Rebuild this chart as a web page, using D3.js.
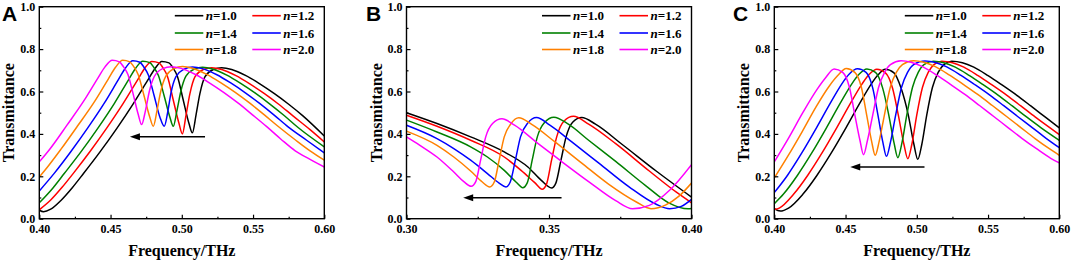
<!DOCTYPE html>
<html>
<head>
<meta charset="utf-8">
<script src="https://cdn.jsdelivr.net/npm/d3@7"></script>
<style>
  body { margin: 0; background: #fff; }
  svg { display: block; }
  .serif { font-family: "Liberation Serif", "Times New Roman", Times, "DejaVu Serif", serif; font-weight: bold; }
</style>
</head>
<body>
<div id="chart"></div>
<script>
// legend entries and line colours
const seriesNames = ["1.0", "1.2", "1.4", "1.6", "1.8", "2.0"];
const seriesColors = ["#000000", "#ff0000", "#008000", "#0000ff", "#ff8000", "#ff00ff"];
const panelLetters = ["A", "B", "C"];

// tick labels
const xTicksA = [0.40, 0.45, 0.50, 0.55, 0.60];
const xMinorA = [0.425, 0.475, 0.525, 0.575];
const xTicksB = [0.30, 0.35, 0.40];
const xMinorB = [0.325, 0.375];
const yTicks = [0.0, 0.2, 0.4, 0.6, 0.8, 1.0];
const yMinor = [0.1, 0.3, 0.5, 0.7, 0.9];

// panel A: [frequency THz, transmittance], one list per n
const curvesA = [
  // n=1.0
  [[0.400,0.040],[0.403,0.033],[0.408,0.045],[0.415,0.085],[0.423,0.145],[0.431,0.213],[0.4426,0.315],[0.4543,0.425],[0.466,0.543],[0.476,0.652],[0.481,0.706],[0.486,0.742],[0.491,0.735],[0.4935,0.715],[0.497,0.67],[0.501,0.56],[0.505,0.45],[0.5074,0.405],[0.510,0.49],[0.5127,0.59],[0.5163,0.67],[0.522,0.703],[0.528,0.712],[0.535,0.704],[0.545,0.675],[0.555,0.635],[0.565,0.59],[0.575,0.54],[0.585,0.485],[0.600,0.39]],
  // n=1.2
  [[0.400,0.042],[0.408,0.088],[0.416,0.148],[0.424,0.215],[0.4356,0.317],[0.4473,0.427],[0.459,0.545],[0.469,0.655],[0.474,0.71],[0.479,0.742],[0.484,0.735],[0.4865,0.715],[0.490,0.67],[0.494,0.56],[0.498,0.45],[0.5004,0.40],[0.503,0.49],[0.5057,0.59],[0.5093,0.67],[0.515,0.703],[0.521,0.712],[0.528,0.704],[0.538,0.675],[0.548,0.635],[0.558,0.59],[0.568,0.54],[0.578,0.485],[0.590,0.42],[0.600,0.362]],
  // n=1.4
  [[0.400,0.075],[0.4096,0.145],[0.4175,0.213],[0.4292,0.315],[0.4409,0.425],[0.4526,0.543],[0.4626,0.655],[0.4676,0.71],[0.4726,0.743],[0.4776,0.736],[0.4801,0.716],[0.4836,0.675],[0.4876,0.58],[0.4916,0.48],[0.494,0.436],[0.4966,0.51],[0.4993,0.60],[0.5029,0.672],[0.5086,0.705],[0.5146,0.714],[0.5216,0.706],[0.5316,0.677],[0.5416,0.637],[0.5516,0.592],[0.5616,0.542],[0.5716,0.488],[0.5816,0.43],[0.600,0.339]],
  // n=1.6
  [[0.400,0.131],[0.4106,0.215],[0.4222,0.317],[0.4339,0.427],[0.4456,0.545],[0.4556,0.657],[0.4606,0.712],[0.4656,0.745],[0.4706,0.738],[0.4731,0.718],[0.4766,0.677],[0.4806,0.58],[0.4846,0.48],[0.4877,0.436],[0.4903,0.51],[0.4923,0.59],[0.4959,0.67],[0.5016,0.705],[0.5076,0.716],[0.5146,0.708],[0.5246,0.679],[0.5346,0.639],[0.5446,0.594],[0.5546,0.544],[0.5646,0.49],[0.5746,0.433],[0.5876,0.37],[0.600,0.31]],
  // n=1.8
  [[0.400,0.197],[0.4035,0.225],[0.4151,0.327],[0.4268,0.437],[0.4385,0.55],[0.4485,0.66],[0.4535,0.714],[0.4585,0.747],[0.4635,0.74],[0.466,0.72],[0.4695,0.678],[0.4735,0.58],[0.4775,0.48],[0.480,0.436],[0.4826,0.51],[0.4852,0.60],[0.4888,0.673],[0.4945,0.708],[0.5005,0.718],[0.5075,0.71],[0.5175,0.681],[0.5275,0.641],[0.5375,0.596],[0.5475,0.546],[0.5575,0.492],[0.5675,0.436],[0.580,0.37],[0.590,0.32],[0.600,0.276]],
  // n=2.0
  [[0.400,0.268],[0.4076,0.33],[0.4193,0.44],[0.431,0.553],[0.441,0.662],[0.446,0.715],[0.4512,0.747],[0.4562,0.74],[0.4587,0.72],[0.4622,0.68],[0.4658,0.59],[0.4695,0.49],[0.4718,0.444],[0.4745,0.51],[0.4772,0.60],[0.4808,0.672],[0.4866,0.708],[0.4926,0.717],[0.4996,0.709],[0.5096,0.68],[0.5196,0.64],[0.5296,0.595],[0.5396,0.545],[0.5496,0.49],[0.5596,0.434],[0.5696,0.375],[0.5796,0.32],[0.590,0.28],[0.600,0.244]]
];

// panel B
const curvesB = [
  [[0.300,0.500],[0.3107,0.449],[0.3225,0.386],[0.3343,0.315],[0.3426,0.244],[0.3473,0.181],[0.3509,0.145],[0.3524,0.168],[0.3542,0.276],[0.356,0.386],[0.3583,0.455],[0.3615,0.477],[0.3663,0.446],[0.3757,0.350],[0.3876,0.225],[0.400,0.102]],
  [[0.300,0.488],[0.3107,0.436],[0.3225,0.370],[0.3343,0.291],[0.3402,0.228],[0.345,0.170],[0.3476,0.139],[0.3491,0.162],[0.3509,0.276],[0.3527,0.386],[0.3553,0.461],[0.3586,0.483],[0.3639,0.446],[0.3734,0.354],[0.3852,0.225],[0.3947,0.125],[0.400,0.075]],
  [[0.300,0.465],[0.3107,0.409],[0.3225,0.339],[0.3284,0.291],[0.3343,0.228],[0.3385,0.172],[0.3408,0.146],[0.3424,0.170],[0.3441,0.276],[0.3459,0.386],[0.3485,0.455],[0.3517,0.479],[0.3568,0.446],[0.3639,0.370],[0.3734,0.270],[0.384,0.155],[0.392,0.075],[0.3988,0.047],[0.400,0.048]],
  [[0.300,0.441],[0.3107,0.378],[0.3166,0.331],[0.3225,0.276],[0.3284,0.213],[0.3325,0.168],[0.3349,0.150],[0.3364,0.173],[0.3382,0.276],[0.340,0.386],[0.3426,0.452],[0.3456,0.477],[0.3503,0.441],[0.358,0.362],[0.3675,0.262],[0.3781,0.150],[0.3876,0.068],[0.3923,0.047],[0.3964,0.058],[0.400,0.091]],
  [[0.300,0.413],[0.3107,0.346],[0.3166,0.291],[0.3225,0.225],[0.3266,0.173],[0.3292,0.150],[0.3308,0.173],[0.3325,0.276],[0.3343,0.386],[0.3367,0.449],[0.3394,0.476],[0.3438,0.446],[0.3521,0.362],[0.3615,0.262],[0.371,0.162],[0.3805,0.080],[0.3858,0.047],[0.391,0.065],[0.3955,0.105],[0.400,0.168]],
  [[0.300,0.386],[0.3047,0.346],[0.3107,0.291],[0.3166,0.220],[0.3201,0.175],[0.3227,0.153],[0.3243,0.175],[0.326,0.276],[0.3278,0.386],[0.3302,0.449],[0.3335,0.471],[0.3379,0.441],[0.3462,0.354],[0.3544,0.270],[0.3639,0.175],[0.3734,0.085],[0.3793,0.047],[0.3852,0.063],[0.3923,0.134],[0.400,0.255]]
];

// panel C
const curvesC = [
  [[0.400,0.047],[0.4042,0.036],[0.410,0.05],[0.420,0.115],[0.430,0.205],[0.440,0.31],[0.450,0.425],[0.460,0.545],[0.468,0.635],[0.473,0.68],[0.4778,0.705],[0.484,0.688],[0.489,0.615],[0.494,0.49],[0.498,0.35],[0.5007,0.28],[0.5035,0.35],[0.507,0.49],[0.511,0.62],[0.515,0.69],[0.519,0.727],[0.5245,0.743],[0.532,0.736],[0.540,0.715],[0.550,0.675],[0.560,0.63],[0.570,0.583],[0.580,0.532],[0.590,0.48],[0.600,0.428]],
  [[0.400,0.043],[0.4035,0.05],[0.4135,0.115],[0.4235,0.205],[0.4335,0.31],[0.4435,0.425],[0.4535,0.545],[0.4615,0.635],[0.4665,0.68],[0.472,0.705],[0.478,0.688],[0.483,0.615],[0.487,0.49],[0.491,0.35],[0.4937,0.283],[0.4965,0.35],[0.500,0.49],[0.504,0.62],[0.508,0.69],[0.512,0.727],[0.5175,0.743],[0.525,0.736],[0.533,0.715],[0.543,0.675],[0.553,0.63],[0.563,0.583],[0.573,0.532],[0.583,0.48],[0.600,0.397]],
  [[0.400,0.071],[0.4063,0.115],[0.4163,0.205],[0.4263,0.31],[0.4363,0.425],[0.4463,0.545],[0.4543,0.635],[0.4593,0.68],[0.465,0.706],[0.471,0.69],[0.476,0.617],[0.4803,0.49],[0.4841,0.355],[0.4867,0.288],[0.4895,0.355],[0.493,0.49],[0.497,0.62],[0.501,0.69],[0.505,0.727],[0.5117,0.743],[0.519,0.736],[0.527,0.715],[0.537,0.675],[0.547,0.63],[0.557,0.583],[0.567,0.532],[0.577,0.48],[0.587,0.43],[0.600,0.37]],
  [[0.400,0.123],[0.4093,0.205],[0.4193,0.31],[0.4293,0.425],[0.4393,0.545],[0.4473,0.635],[0.4523,0.68],[0.4584,0.707],[0.4644,0.69],[0.469,0.618],[0.4727,0.49],[0.4762,0.36],[0.4787,0.294],[0.4815,0.36],[0.4852,0.49],[0.4893,0.62],[0.4935,0.69],[0.4978,0.727],[0.5058,0.744],[0.513,0.737],[0.521,0.716],[0.531,0.676],[0.541,0.631],[0.551,0.584],[0.561,0.533],[0.571,0.481],[0.581,0.43],[0.591,0.378],[0.600,0.335]],
  [[0.400,0.192],[0.4095,0.295],[0.4195,0.41],[0.4295,0.53],[0.4385,0.625],[0.4445,0.675],[0.4505,0.708],[0.4565,0.69],[0.4611,0.62],[0.4648,0.49],[0.4683,0.365],[0.4708,0.299],[0.4736,0.365],[0.4773,0.49],[0.4814,0.62],[0.4856,0.69],[0.4899,0.727],[0.4977,0.745],[0.505,0.738],[0.513,0.717],[0.523,0.677],[0.533,0.632],[0.543,0.585],[0.553,0.534],[0.563,0.482],[0.573,0.43],[0.583,0.378],[0.593,0.33],[0.600,0.299]],
  [[0.400,0.268],[0.410,0.38],[0.420,0.50],[0.430,0.61],[0.436,0.665],[0.442,0.706],[0.448,0.69],[0.4527,0.62],[0.4565,0.49],[0.4601,0.37],[0.4626,0.302],[0.4654,0.37],[0.4691,0.49],[0.4732,0.62],[0.4774,0.69],[0.4815,0.727],[0.489,0.745],[0.496,0.738],[0.504,0.717],[0.514,0.677],[0.524,0.632],[0.534,0.585],[0.544,0.534],[0.554,0.482],[0.564,0.43],[0.574,0.378],[0.584,0.33],[0.594,0.285],[0.600,0.263]]
];

// shift arrows: [from, to] in data units
const arrowA = [[0.5163, 0.386], [0.4636, 0.386]];
const arrowB = [[0.3544, 0.099], [0.3199, 0.099]];
const arrowC = [[0.5054, 0.244], [0.4533, 0.244]];

const width = 1072;
const height = 263;
const plotTop = 6.7, plotBottom = 218.7;

const panels = [
  { letter: panelLetters[0], left: 39.3, right: 324.3, letterX: 2, legendDx: 0,
    domain: [0.40, 0.60], ticks: xTicksA, minor: xMinorA, curves: curvesA, arrow: arrowA },
  { letter: panelLetters[1], left: 406.5, right: 691.5, letterX: 366, legendDx: 0,
    domain: [0.30, 0.40], ticks: xTicksB, minor: xMinorB, curves: curvesB, arrow: arrowB },
  { letter: panelLetters[2], left: 774.3, right: 1059.3, letterX: 733, legendDx: -5,
    domain: [0.40, 0.60], ticks: xTicksA, minor: xMinorA, curves: curvesC, arrow: arrowC }
];

const svg = d3.select("#chart")
  .append("svg")
  .attr("width", width)
  .attr("height", height)
  .attr("viewBox", [0, 0, width, height]);

panels.forEach((p, pi) => {
  const x = d3.scaleLinear().domain(p.domain).range([p.left, p.right]);
  const y = d3.scaleLinear().domain([0, 1]).range([plotBottom, plotTop]);
  const g = svg.append("g");

  const clipId = "clip" + pi;
  g.append("clipPath").attr("id", clipId)
    .append("rect")
    .attr("x", p.left).attr("y", plotTop)
    .attr("width", p.right - p.left).attr("height", plotBottom - plotTop);

  // curves
  const line = d3.line()
    .x(d => x(d[0]))
    .y(d => y(d[1]))
    .curve(d3.curveMonotoneX);

  g.append("g")
    .attr("clip-path", `url(#${clipId})`)
    .selectAll("path")
    .data(p.curves)
    .join("path")
    .attr("d", line)
    .attr("fill", "none")
    .attr("stroke", (d, i) => seriesColors[i])
    .attr("stroke-width", 1.5);

  // x axis, ticks pointing inward
  g.append("g")
    .attr("transform", `translate(0,${plotBottom})`)
    .call(d3.axisBottom(x).tickValues(p.ticks).tickFormat(d3.format(".2f"))
      .tickSize(-4).tickSizeOuter(0).tickPadding(6));
  g.append("g")
    .attr("transform", `translate(0,${plotBottom})`)
    .call(d3.axisBottom(x).tickValues(p.minor).tickFormat("").tickSize(-2).tickSizeOuter(0));

  g.append("g")
    .attr("transform", `translate(${p.left},0)`)
    .call(d3.axisLeft(y).tickValues(yTicks).tickFormat(d3.format(".1f"))
      .tickSize(-4).tickSizeOuter(0).tickPadding(4));
  g.append("g")
    .attr("transform", `translate(${p.left},0)`)
    .call(d3.axisLeft(y).tickValues(yMinor).tickFormat("").tickSize(-2).tickSizeOuter(0));

  g.selectAll(".domain").remove();
  g.selectAll(".tick line").attr("stroke", "#000").attr("stroke-width", 1.2);
  g.selectAll("g.tick text")
    .attr("fill", "#000")
    .attr("font-family", null)
    .attr("class", "serif")
    .style("font-size", "12px");
  g.selectAll("g").attr("font-family", null);

  // frame
  g.append("rect")
    .attr("x", p.left).attr("y", plotTop)
    .attr("width", p.right - p.left).attr("height", plotBottom - plotTop)
    .attr("fill", "none")
    .attr("stroke", "#000")
    .attr("stroke-width", 1.4);

  // axis titles
  g.append("text")
    .attr("class", "serif")
    .attr("x", (p.left + p.right) / 2)
    .attr("y", 256)
    .attr("text-anchor", "middle")
    .style("font-size", "16px")
    .text("Frequency/THz");

  g.append("text")
    .attr("class", "serif")
    .attr("transform", `translate(${p.left - 25},${(plotTop + plotBottom) / 2}) rotate(-90)`)
    .attr("text-anchor", "middle")
    .style("font-size", "16px")
    .text("Transmittance");

  // panel letter
  g.append("text")
    .attr("x", p.letterX)
    .attr("y", 20.5)
    .style("font-family", "'Liberation Sans', Arial, sans-serif")
    .style("font-weight", "bold")
    .style("font-size", "21px")
    .text(p.letter);

  // legend, two columns by three rows
  const lx = p.right + p.legendDx;
  const rowY = [15.7, 33, 49.5];
  seriesNames.forEach((name, i) => {
    const col = i % 2, row = Math.floor(i / 2);
    const x0 = lx - (col === 0 ? 149.5 : 72);
    const yy = rowY[row];
    g.append("line")
      .attr("x1", x0).attr("x2", x0 + 28.5)
      .attr("y1", yy).attr("y2", yy)
      .attr("stroke", seriesColors[i])
      .attr("stroke-width", 1.6);
    const t = g.append("text")
      .attr("class", "serif")
      .attr("x", x0 + 31)
      .attr("y", yy)
      .attr("dy", "0.35em")
      .style("font-size", "13px");
    t.append("tspan").style("font-style", "italic").text("n");
    t.append("tspan").text("=" + name);
  });

  // shift arrow
  const [a0, a1] = p.arrow;
  const ax0 = x(a0[0]), ax1 = x(a1[0]), ay = y(a0[1]);
  g.append("line")
    .attr("x1", ax0).attr("x2", ax1 + 8)
    .attr("y1", ay).attr("y2", ay)
    .attr("stroke", "#000")
    .attr("stroke-width", 1.5);
  g.append("path")
    .attr("d", `M${ax1},${ay} L${ax1 + 10},${ay - 3.5} L${ax1 + 10},${ay + 3.5} Z`)
    .attr("fill", "#000");
});
</script>
</body>
</html>
